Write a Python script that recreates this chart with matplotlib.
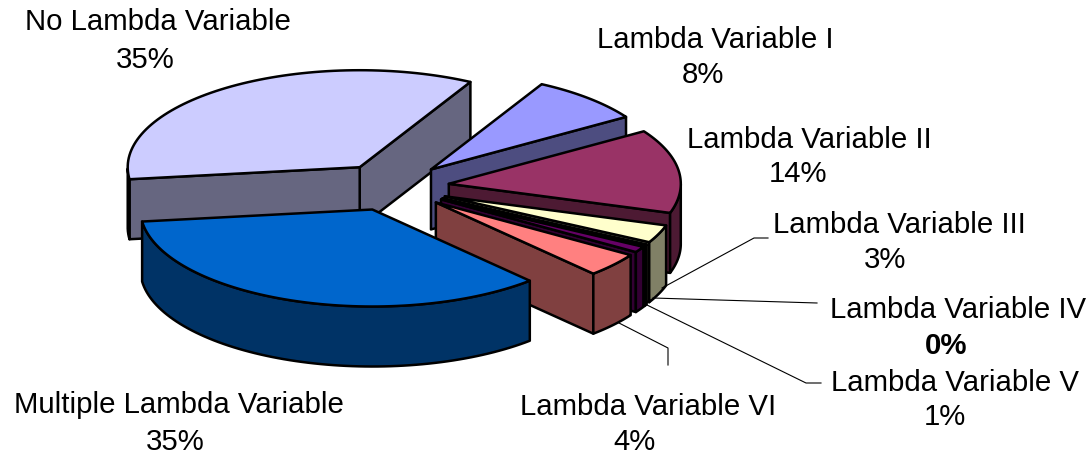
import numpy as np
import matplotlib
matplotlib.use("Agg")
import matplotlib.pyplot as plt
from matplotlib.patches import Polygon

# pie order, counter-clockwise from the back right
names = ["No Lambda Variable", "Multiple Lambda Variable", "Lambda Variable VI", "Lambda Variable V",
         "Lambda Variable IV", "Lambda Variable III", "Lambda Variable II", "Lambda Variable I"]
values = [35, 35, 4, 1, 0.3, 3, 14, 8]
percents = ["35%", "35%", "4%", "1%", "0%", "3%", "14%", "8%"]
tops = ["#CCCCFF", "#0066CC", "#FF8080", "#660066", "#CCFFFF", "#FFFFCC", "#993366", "#9999FF"]
sides = ["#666680", "#003366", "#804040", "#330033", "#668080", "#808066", "#4D1A33", "#4D4D80"]
# back to front
draw_order = [0, 7, 6, 5, 4, 3, 2, 1]

start_angle = 61.5
cx, cy = 392, 188
rx, ry = 232, 97
height = 60
explode = 0.247

plt.rcParams["font.family"] = ["Liberation Sans", "DejaVu Sans"]
fig = plt.figure(figsize=(10.89, 4.56), dpi=100)
ax = fig.add_axes([0, 0, 1, 1])
ax.set_xlim(0, 1089)
ax.set_ylim(456, 0)
ax.axis("off")


def project(x, y, z=0):
    return cx + rx * x, cy - ry * y + height * z


def face(points, color, z):
    ax.add_patch(Polygon(points, closed=True, facecolor=color, edgecolor="black", lw=1.8, joinstyle="round", zorder=z))


spans = np.array(values) / sum(values) * 360
starts = start_angle + np.concatenate([[0], np.cumsum(spans)[:-1]])

for rank, i in enumerate(draw_order):
    a0, a1 = starts[i], starts[i] + spans[i]
    mid = np.radians((a0 + a1) / 2)
    ox, oy = explode * np.cos(mid), explode * np.sin(mid)
    th = np.radians(np.linspace(a0, a1, 80))
    xs, ys = ox + np.cos(th), oy + np.sin(th)

    rim_top = [project(x, y, 0) for x, y in zip(xs, ys)]
    apex = project(ox, oy, 0)
    apex_low = project(ox, oy, 1)
    z = 2 + rank

    # radial walls, only where they face the viewer
    if np.cos(th[0]) > 0:
        face([apex, rim_top[0], project(xs[0], ys[0], 1), apex_low], sides[i], z)
    if np.cos(th[-1]) < 0:
        face([apex, rim_top[-1], project(xs[-1], ys[-1], 1), apex_low], sides[i], z)

    # outer wall, front half of the rim
    front = np.sin(th) < 0
    if front.any():
        upper = [project(x, y, 0) for x, y in zip(xs[front], ys[front])]
        lower = [project(x, y, 1) for x, y in zip(xs[front], ys[front])]
        face(upper + lower[::-1], sides[i], z)

    face([apex] + rim_top, tops[i], z)

# leader lines
leaders = [([768, 754, 662], [239, 239, 289]),
           ([817, 653], [304, 299]),
           ([821, 806, 647], [384, 384, 306]),
           ([668, 668, 619], [366, 349, 324])]
for lx, ly in leaders:
    ax.plot(lx, ly, color="black", lw=0.8, zorder=20)

fs = 21.2
# name x, name y, percent x, percent y
label_pos = {"No Lambda Variable": (158, 22, 145, 60),
             "Lambda Variable I": (715, 40, 703, 75),
             "Lambda Variable II": (809, 140, 798, 174),
             "Lambda Variable III": (899, 225, 885, 260),
             "Lambda Variable IV": (958, 310, 946, 346),
             "Lambda Variable V": (955, 383, 945, 417),
             "Lambda Variable VI": (648, 407, 634, 442),
             "Multiple Lambda Variable": (179, 405, 175, 442)}
for name, pct in zip(names, percents):
    x, y1, x2, y2 = label_pos[name]
    weight = "bold" if name == "Lambda Variable IV" else "normal"
    ax.text(x, y1, name, ha="center", va="center", fontsize=fs, zorder=30)
    ax.text(x2, y2, pct, ha="center", va="center", fontsize=fs, fontweight=weight, zorder=30)

fig.savefig("out.png", dpi=100)
